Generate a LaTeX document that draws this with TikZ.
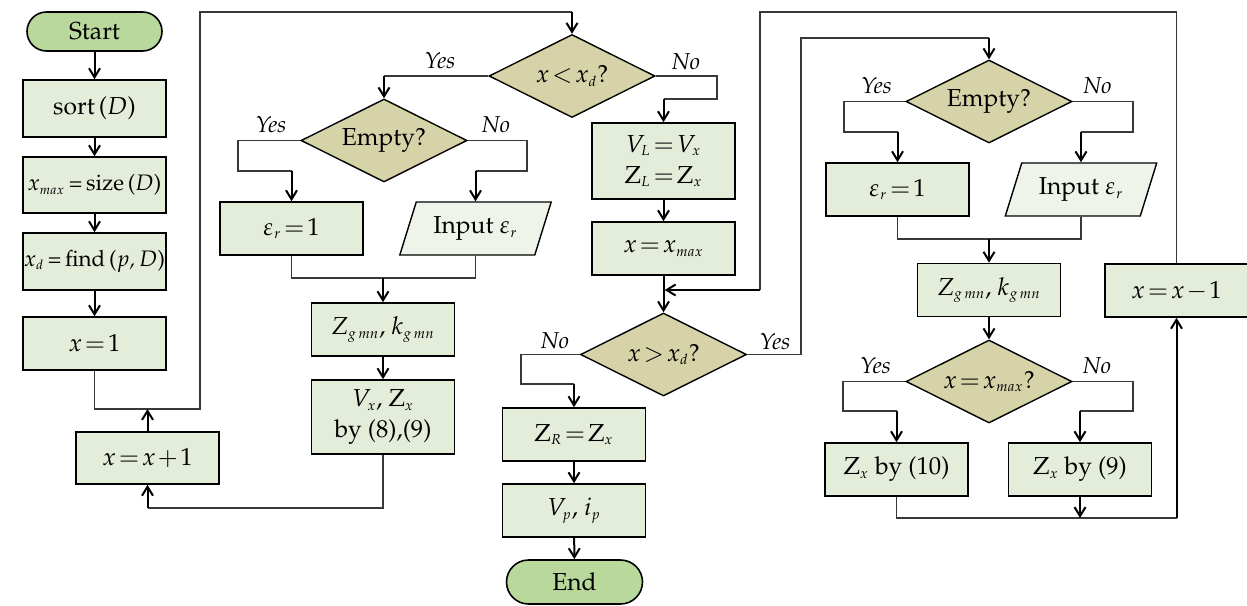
\documentclass[tikz,border=0pt]{standalone}
\usepackage[T1]{fontenc}
\usepackage{mathpazo}
\usetikzlibrary{shapes.geometric,arrows.meta}

% small indices and tight relation spacing in the formulas
\DeclareMathSizes{12.3}{12.3}{7.2}{5.5}
\DeclareMathSizes{11.2}{11.2}{6.6}{5}
\thickmuskip=2mu plus 1mu
\medmuskip=1.5mu

\definecolor{procfill}{HTML}{E4EDDA}
\definecolor{iofill}{HTML}{EFF4EA}
\definecolor{decfill}{HTML}{D7D3A8}
\definecolor{termfill}{HTML}{B9D89B}
\definecolor{wirecol}{HTML}{383838}

\tikzset{
  base/.style={inner sep=0pt, font=\fontsize{12.3}{15.5}\selectfont, align=center},
  proc/.style={base, rectangle, draw=black, line width=0.8pt, fill=procfill,
               minimum width=71.5pt, minimum height=26.5pt},
  narrow/.style={font=\fontsize{11.2}{14}\selectfont},
  term/.style={base, rectangle, rounded corners=9.75pt, draw=black, line width=0.8pt,
               fill=termfill, minimum width=67.5pt, minimum height=19.5pt},
  dec/.style={base, diamond, aspect=2, draw=black, line width=0.7pt, fill=decfill,
              minimum width=83pt, minimum height=41.5pt},
  io/.style={base, trapezium, trapezium left angle=64, trapezium right angle=116,
             trapezium stretches=true, draw=black, line width=0.7pt, fill=iofill,
             minimum width=76pt, minimum height=26.5pt},
  wire/.style={draw=wirecol, line width=0.55pt},
  arr/.style={draw=black, line width=1pt, -{Straight Barb[length=4.5pt,width=5.5pt]}},
  lbl/.style={font=\fontsize{11.5}{14}\selectfont\itshape, inner sep=0pt},
}

\begin{document}
\begin{tikzpicture}[x=0.5pt, y=-0.5pt]
\useasboundingbox (0,0) rectangle (1247,605);

% ---------- first column ----------
\node[term] (start) at (94.5,31.5) {Start};
\node[proc, minimum height=28.5pt] (sort) at (94.5,108.5) {sort\,($D$)};
\node[proc, narrow, minimum height=28pt] (xmax) at (94.5,185)
  {$x_{max}$\,=\,size\,($D$)};
\node[proc, narrow, minimum height=28.5pt] (xd) at (94.5,261.5)
  {$x_d$\,=\,find\,($p$\textit{,}\,$D$)};
\node[proc] (x1) at (94.5,343.5) {$x=1$};
\node[proc, minimum height=26pt] (xp1) at (147.5,458) {$x=x+1$};

% ---------- left branch of the loop ----------
\node[dec] (d1) at (572,76) {$x<x_d$?};
\node[dec] (e1) at (384,140.5) {Empty?};
\node[proc] (eps1) at (291.5,228.5) {$\varepsilon_r=1$};
\node[io] (in1) at (475.5,228.5) {Input $\varepsilon_r$};
\node[proc] (zg1) at (383,329.5) {$Z_{g\,mn}$, $k_{g\,mn}$};
\node[proc, minimum height=37pt] (vx) at (383,417) {$V_x$, $\mathrm{Z}_x$\\by (8),(9)};

% ---------- middle column ----------
\node[proc, minimum height=38pt] (vl) at (663.5,161) {$V_L=V_x$\\$\mathrm{Z}_L=\mathrm{Z}_x$};
\node[proc] (xxmax) at (663.5,248.5) {$x=x_{max}$};
\node[dec] (d2) at (663.5,354.5) {$x>x_d$?};
\node[proc] (zr) at (574,434.5) {$\mathrm{Z}_R=\mathrm{Z}_x$};
\node[proc] (vp) at (574,510.5) {$V_p$, $i_p$};
\node[term, minimum height=22pt, minimum width=68pt, rounded corners=11pt] (end) at (574.5,582) {End};

% ---------- right branch of the loop ----------
\node[dec] (e2) at (989,101.5) {Empty?};
\node[proc] (eps2) at (897.5,189.5) {$\varepsilon_r=1$};
\node[io] (in2) at (1081,189.5) {Input $\varepsilon_r$};
\node[proc] (zg2) at (989,290) {$Z_{g\,mn}$, $k_{g\,mn}$};
\node[proc] (xm1) at (1176.5,290.5) {$x=x-1$};
\node[dec] (d3) at (989,381.5) {$x=x_{max}$?};
\node[proc] (z10) at (896.5,469.5) {$\mathrm{Z}_x$ by (10)};
\node[proc] (z9) at (1080,469.5) {$\mathrm{Z}_x$ by (9)};

% ---------- bend points ----------
\coordinate (cL) at (200,409);
\coordinate (cTop1) at (572,12);
\coordinate (cB) at (147.5,508);
\coordinate (cY1) at (384,76);
\coordinate (cE1a) at (238,171);
\coordinate (cE1c) at (527,171);
\coordinate (cM1) at (383,278);
\coordinate (cN1) at (717,99);
\coordinate (cTop2) at (760,12);
\coordinate (cR) at (760,290);
\coordinate (cY2) at (801,38);
\coordinate (cN2) at (521,384);
\coordinate (cE2a) at (844,132);
\coordinate (cE2c) at (1133,132);
\coordinate (cM2) at (989,239);
\coordinate (cD3a) at (843,411);
\coordinate (cD3c) at (1133,411);
\coordinate (cM3) at (1176.5,518);

% ---------- straight chain ----------
\draw[arr] (start) -- (sort);
\draw[arr] (sort) -- (xmax);
\draw[arr] (xmax) -- (xd);
\draw[arr] (xd) -- (x1);

% ---------- outer loop on the left ----------
\draw[wire] (x1.south) |- (cL) |- (cTop1);
\draw[arr] (cTop1) -- (d1.north);
\draw[arr] (xp1.north) -- (xp1.north |- cL);
\draw[wire] (vx.south) |- (cB);
\draw[arr] (cB) -- (xp1.south);

% ---------- x < x_d ? ----------
\draw[wire] (d1.west) -- (cY1);
\draw[arr] (cY1) -- (e1.north);
\draw[wire] (e1.west) -| (cE1a) -- (eps1.north |- cE1a);
\draw[arr] (eps1.north |- cE1a) -- (eps1.north);
\draw[wire] (e1.east) -| (cE1c) -- (in1.north |- cE1c);
\draw[arr] (in1.north |- cE1c) -- (in1.north);
\draw[wire] (eps1.south) |- (cM1) -| (in1.south);
\draw[arr] (cM1) -- (zg1.north);
\draw[arr] (zg1) -- (vx);

\draw[wire] (d1.east) -| (cN1) -- (vl.north |- cN1);
\draw[arr] (vl.north |- cN1) -- (vl.north);
\draw[arr] (vl) -- (xxmax);
\draw[arr] (xxmax) -- (d2);

% ---------- x > x_d ? ----------
\draw[wire] (xm1.north) |- (cTop2) -- (cR);
\draw[arr] (cR) -- ([xshift=0.6pt]cR -| d2.north);
\draw[wire] (d2.west) -| (cN2) -- (zr.north |- cN2);
\draw[arr] (zr.north |- cN2) -- (zr.north);
\draw[arr] (zr) -- (vp);
\draw[arr] (vp) -- (end);
\draw[wire] (d2.east) -| (cY2) -- (e2.north |- cY2);
\draw[arr] (e2.north |- cY2) -- (e2.north);

% ---------- right branch ----------
\draw[wire] (e2.west) -| (cE2a) -- (eps2.north |- cE2a);
\draw[arr] (eps2.north |- cE2a) -- (eps2.north);
\draw[wire] (e2.east) -| (cE2c) -- (in2.north |- cE2c);
\draw[arr] (in2.north |- cE2c) -- (in2.north);
\draw[wire] (eps2.south) |- (cM2) -| (in2.south);
\draw[arr] (cM2) -- (zg2.north);
\draw[arr] (zg2) -- (d3);
\draw[wire] (d3.west) -| (cD3a) -- (z10.north |- cD3a);
\draw[arr] (z10.north |- cD3a) -- (z10.north);
\draw[wire] (d3.east) -| (cD3c) -- (z9.north |- cD3c);
\draw[arr] (z9.north |- cD3c) -- (z9.north);
\draw[wire] (z10.south) |- (cM3);
\draw[arr] (z9.south) -- (z9.south |- cM3);
\draw[arr] (cM3) -- (xm1.south);

% ---------- branch labels ----------
\node[lbl] (l1) at (440,61) {Yes};
\node[lbl] (l2) at (686,61.5) {No};
\node[lbl] (l3) at (271,124.5) {Yes};
\node[lbl] (l4) at (496,124.5) {No};
\node[lbl] (l5) at (555,340.5) {No};
\node[lbl] (l6) at (775,342) {Yes};
\node[lbl] (l7) at (876.5,85.5) {Yes};
\node[lbl] (l8) at (1097.5,85.5) {No};
\node[lbl] (l9) at (875.5,366) {Yes};
\node[lbl] (l10) at (1097,366) {No};
\end{tikzpicture}
\end{document}
